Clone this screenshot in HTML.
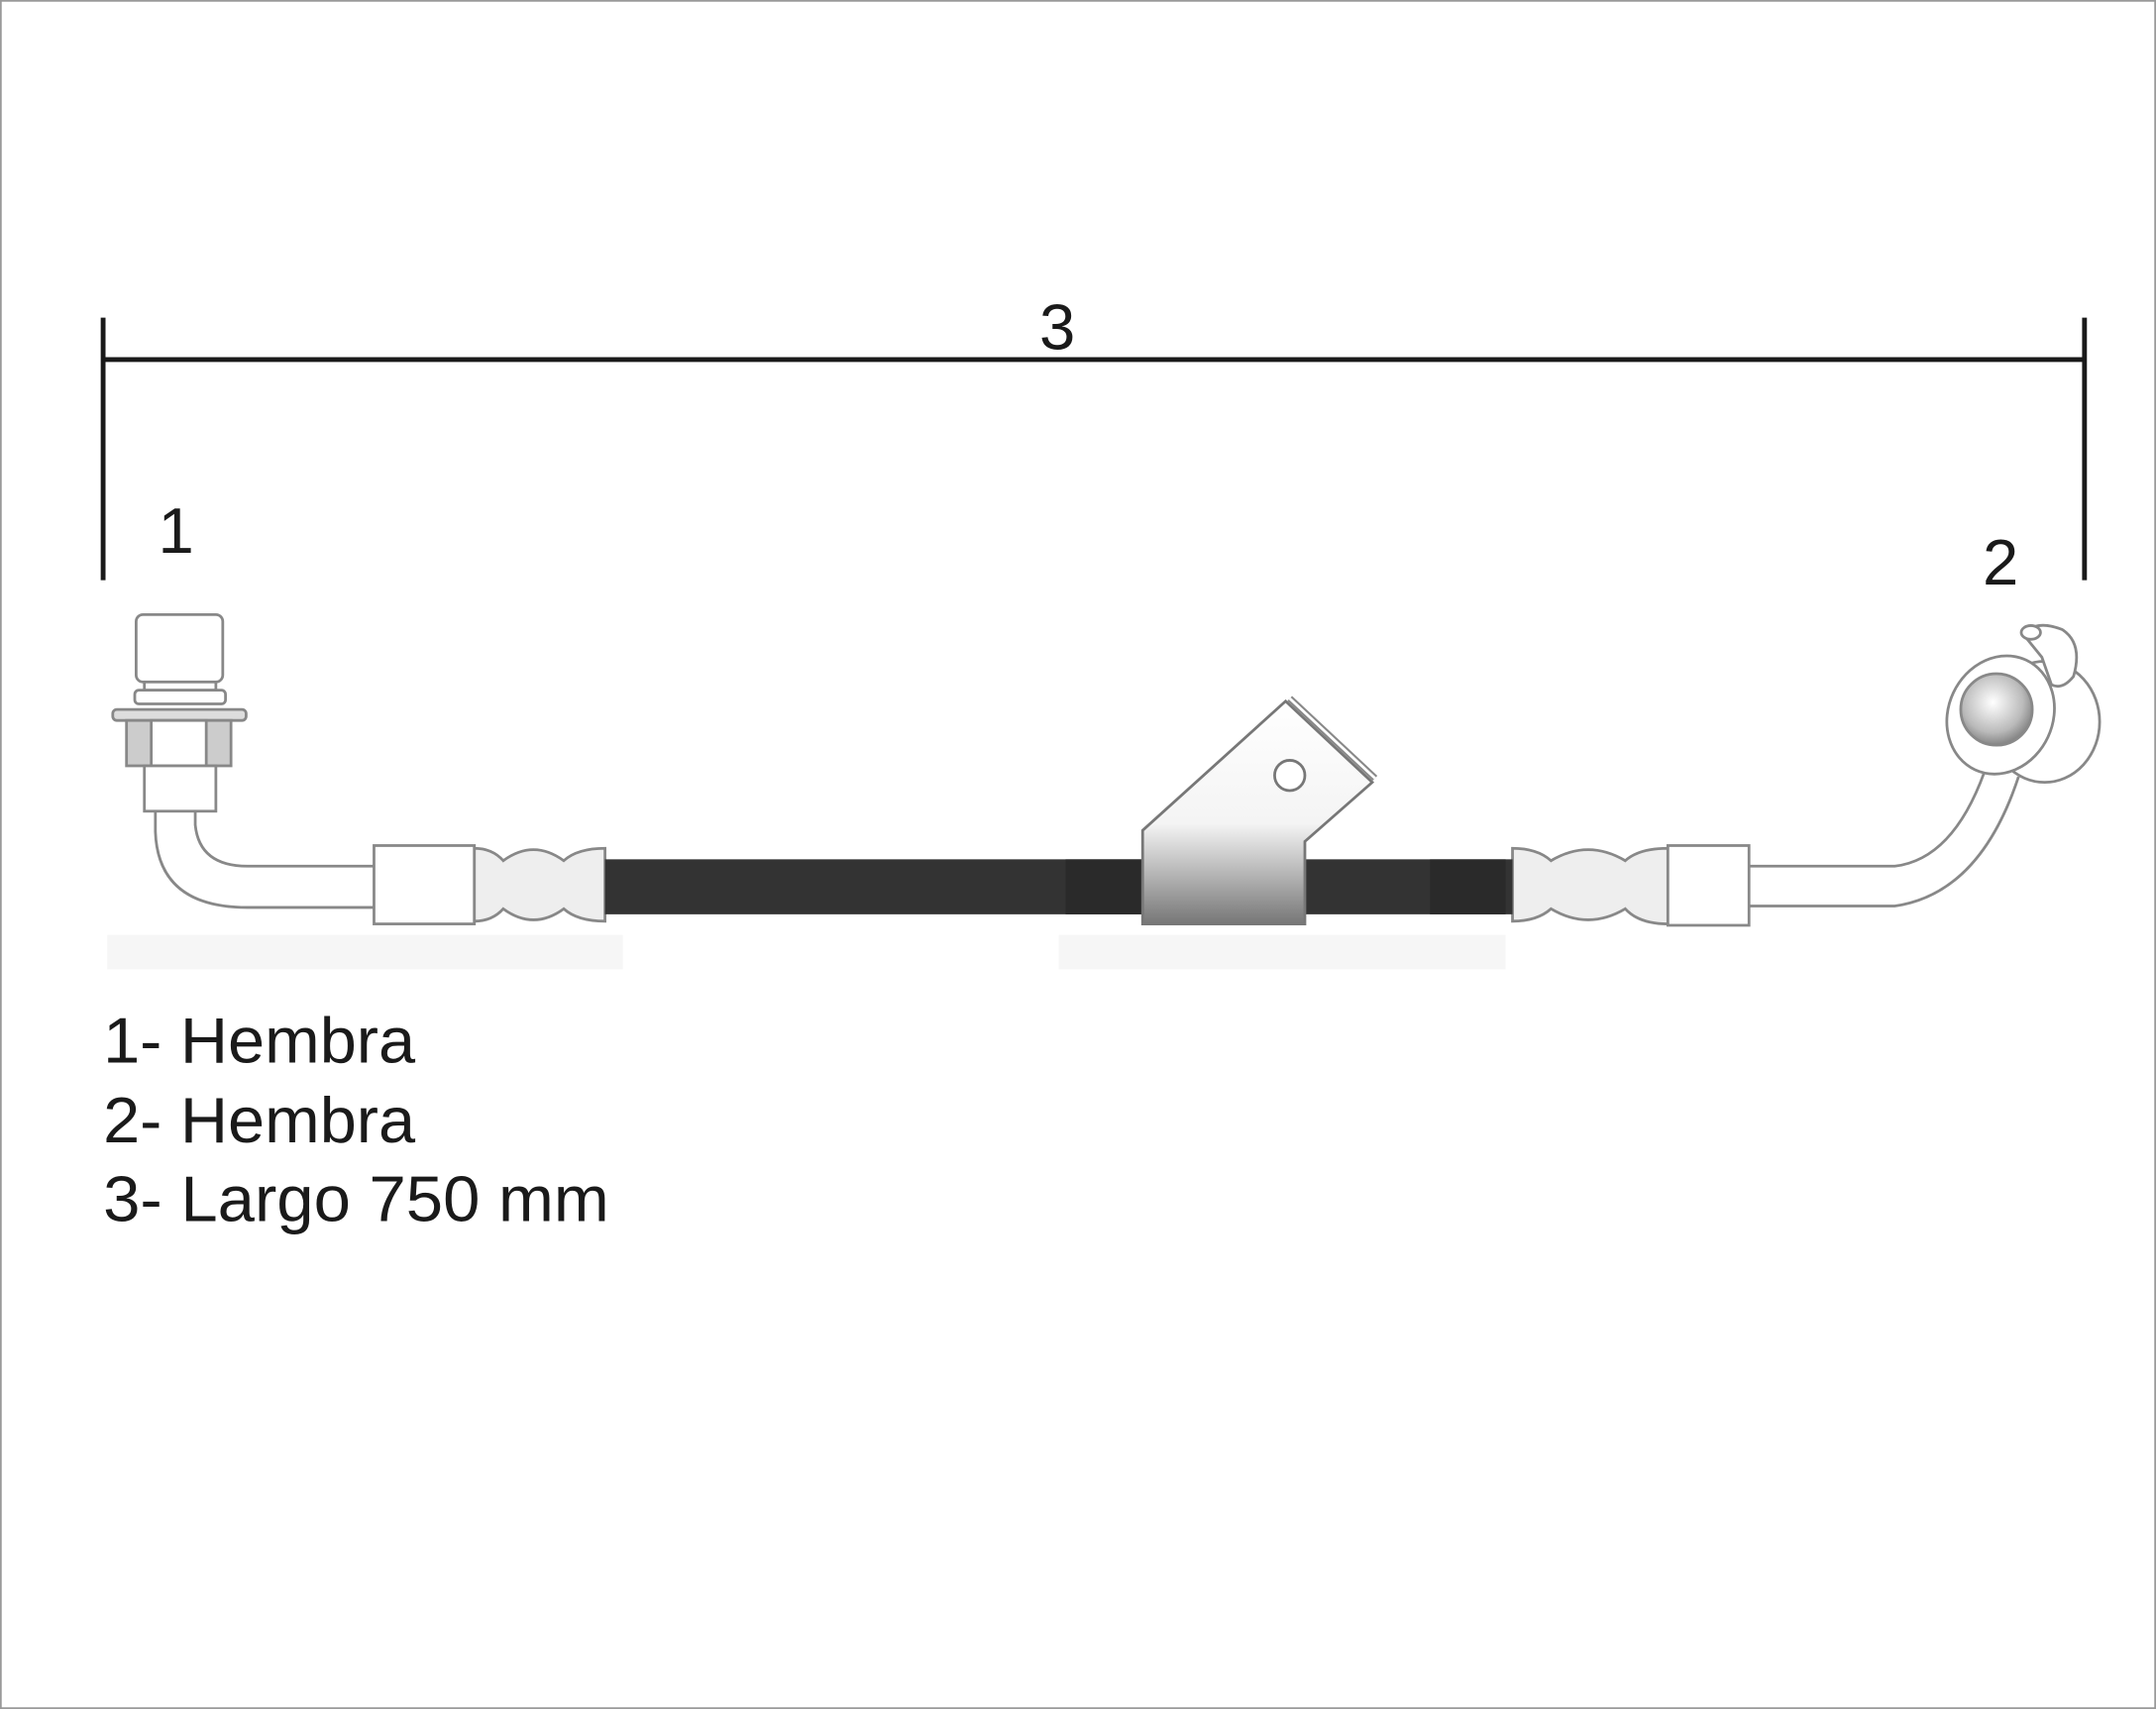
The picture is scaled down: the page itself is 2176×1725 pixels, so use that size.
<!DOCTYPE html>
<html><head><meta charset="utf-8"><style>
html,body{margin:0;padding:0;background:#fff;}
svg{display:block;}
</style></head><body>
<svg width="2176" height="1725" viewBox="0 0 1568 1243" preserveAspectRatio="none" xmlns="http://www.w3.org/2000/svg">
<defs>
<linearGradient id="gb" x1="0" y1="0" x2="0" y2="1">
<stop offset="0" stop-color="#fff"/><stop offset="0.55" stop-color="#f4f4f4"/><stop offset="1" stop-color="#777"/>
</linearGradient>
<radialGradient id="ball" cx="0.45" cy="0.4" r="0.7">
<stop offset="0" stop-color="#fff"/><stop offset="0.6" stop-color="#bbb"/><stop offset="1" stop-color="#666"/>
</radialGradient>
</defs>
<rect x="0.5" y="0.5" width="1567" height="1242" fill="#fff" stroke="#999" stroke-width="1.5"/>
<g stroke="#1a1a1a" stroke-width="3.5">
<line x1="75" y1="261.5" x2="1516" y2="261.5"/>
<line x1="75" y1="231" x2="75" y2="422"/>
<line x1="1516" y1="231" x2="1516" y2="422"/>
</g>
<g font-family="'Liberation Sans', sans-serif" fill="#1a1a1a">
<text x="769" y="254" font-size="47" text-anchor="middle">3</text>
<text x="128" y="402" font-size="47" text-anchor="middle">1</text>
<text x="1455" y="425" font-size="47" text-anchor="middle">2</text>
<text x="75" y="773" font-size="47" textLength="227" lengthAdjust="spacingAndGlyphs">1- Hembra</text>
<text x="75" y="831" font-size="47" textLength="227" lengthAdjust="spacingAndGlyphs">2- Hembra</text>
<text x="75" y="888" font-size="47" textLength="368" lengthAdjust="spacingAndGlyphs">3- Largo 750 mm</text>
</g>
<rect x="78" y="680" width="375" height="25" fill="#f6f6f6"/>
<rect x="770" y="680" width="325" height="25" fill="#f6f6f6"/>
<g stroke="#888" stroke-width="2" fill="#fff">
<path d="M113 590 L113 605 Q115 660 180 660 L273 660" fill="none"/>
<path d="M142 590 L142 600 Q145 630 180 630 L273 630" fill="none"/>
<rect x="99" y="447" width="63" height="49" rx="5"/>
<rect x="105" y="496" width="52" height="6"/>
<rect x="98" y="502" width="66" height="10" rx="3"/>
<rect x="82" y="516" width="97" height="8" rx="3" fill="#ddd"/>
<rect x="92" y="524" width="76" height="33" fill="#ccc"/>
<rect x="110" y="524" width="40" height="33"/>
<rect x="105" y="557" width="52" height="33"/>
<rect x="272" y="615" width="73" height="57"/>
<path d="M345 617 Q358 617 366 626 Q388 610 410 626 Q420 617 440 617 L440 670 Q420 670 410 661 Q388 677 366 661 Q358 670 345 670 Z" fill="#eee"/>
<path d="M1272 630 L1378 630 Q1420 625 1443 562" fill="none"/>
<path d="M1272 659 L1378 659 Q1440 650 1468 565" fill="none"/>
<path d="M1100 617 Q1118 617 1128 626 Q1155 610 1182 626 Q1192 617 1213 617 L1213 672 Q1192 672 1182 661 Q1155 677 1128 661 Q1118 670 1100 670 Z" fill="#eee"/>
<rect x="1213" y="615" width="59" height="58"/>
</g>
<rect x="440" y="625" width="660" height="40" fill="#333"/>
<rect x="775" y="625" width="55" height="40" fill="#2a2a2a"/>
<rect x="1040" y="625" width="55" height="40" fill="#2a2a2a"/>
<g stroke="#777" stroke-width="2">
<path d="M831 604 L935 510 L998 569 L949 612 L949 672 L831 672 Z" fill="url(#gb)"/>
<line x1="938" y1="508" x2="1000" y2="566" stroke-width="5" stroke="#888"/>
<line x1="938" y1="508" x2="1000" y2="566" stroke-width="2" stroke="#fff"/>
<circle cx="938" cy="564" r="11" fill="#fff"/>
</g>
<g stroke="#888" stroke-width="2">
<ellipse cx="1487" cy="525" rx="40" ry="44" fill="#fff"/>
<path d="M1472 462 Q1480 450 1500 458 Q1515 468 1508 492 Q1500 502 1492 498 L1485 478 Z" fill="#fff"/>
<ellipse cx="1477" cy="460" rx="7" ry="5" fill="#fff"/>
<ellipse cx="1455" cy="520" rx="38" ry="44" fill="#fff" transform="rotate(25 1455 520)"/>
<circle cx="1452" cy="516" r="26" fill="url(#ball)"/>
</g>
</svg>
</body></html>
